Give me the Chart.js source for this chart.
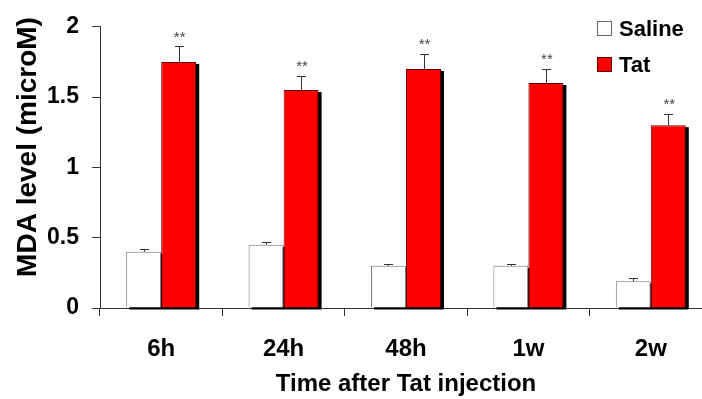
<!DOCTYPE html>
<html>
<head>
<meta charset="utf-8">
<script src="https://cdn.jsdelivr.net/npm/chart.js@4"></script>
<style>
  html, body { margin: 0; padding: 0; background: #fff; overflow: hidden; }
  #wrap { width: 702px; height: 399px; overflow: hidden; }
</style>
</head>
<body>
<div id="wrap"><canvas id="chart" width="714" height="399"></canvas></div>
<script>
// ── Data ────────────────────────────────────────────────
const categories = ["6h", "24h", "48h", "1w", "2w"];
const saline = [0.40, 0.45, 0.30, 0.30, 0.19];
const salineErr = [0.02, 0.02, 0.015, 0.015, 0.02];
const tat = [1.75, 1.55, 1.70, 1.60, 1.30];
const tatErr = [0.11, 0.10, 0.11, 0.10, 0.08];
const tatMarks = ["**", "**", "**", "**", "**"];
const yTicks = [0, 0.5, 1, 1.5, 2];

const FONT = "Arial, 'Liberation Sans', sans-serif";
const AXIS = "#333";

// ── Plugins ─────────────────────────────────────────────
// black drop shadow behind each bar
const barShadow = {
    id: "barShadow",
    beforeDatasetsDraw(chart) {
        const ctx = chart.ctx;
        ctx.save();
        ctx.fillStyle = "#000";
        chart.data.datasets.forEach((ds, i) => {
            chart.getDatasetMeta(i).data.forEach((bar) => {
                const { x, y, base, width } = bar.getProps(["x", "y", "base", "width"], true);
                ctx.fillRect(x - width / 2 + 3, y + 2, width, base - y);
            });
        });
        ctx.restore();
    },
};

// error bars + significance marks
const errorBars = {
    id: "errorBars",
    afterDatasetsDraw(chart) {
        const ctx = chart.ctx;
        const yScale = chart.scales.y;
        const errs = [salineErr, tatErr];
        ctx.save();
        ctx.strokeStyle = AXIS;
        ctx.lineWidth = 1;
        chart.data.datasets.forEach((ds, i) => {
            chart.getDatasetMeta(i).data.forEach((bar, j) => {
                const { x, y } = bar.getProps(["x", "y"], true);
                const top = yScale.getPixelForValue(ds.data[j] + errs[i][j]);
                const cx = Math.round(x) + 0.5;
                ctx.beginPath();
                ctx.moveTo(cx, y);
                ctx.lineTo(cx, Math.round(top) + 0.5);
                ctx.moveTo(cx - 4.5, Math.round(top) + 0.5);
                ctx.lineTo(cx + 4.5, Math.round(top) + 0.5);
                ctx.stroke();
                if (i === 1) {
                    ctx.fillStyle = "#444";
                    ctx.font = "15px " + FONT;
                    ctx.textAlign = "center";
                    ctx.textBaseline = "middle";
                    ctx.fillText(tatMarks[j], x + 1, top - 9);
                }
            });
        });
        ctx.restore();
    },
};

// y title and legend
const extras = {
    id: "extras",
    afterDraw(chart) {
        const ctx = chart.ctx;
        ctx.save();
        ctx.fillStyle = "#000";
        ctx.font = "bold 28px " + FONT;
        ctx.textAlign = "center";
        ctx.textBaseline = "middle";
        ctx.translate(28, 147);
        ctx.rotate(-Math.PI / 2);
        ctx.fillText("MDA level (microM)", 0, 0);
        ctx.restore();

        const items = [
            { label: "Saline", fill: "#fff", stroke: "#666" },
            { label: "Tat", fill: "#ff0000", stroke: "#600" },
        ];
        ctx.save();
        items.forEach((it, k) => {
            const top = 21 + k * 36;
            ctx.fillStyle = it.fill;
            ctx.fillRect(597, top, 15, 15);
            ctx.strokeStyle = it.stroke;
            ctx.lineWidth = 1;
            ctx.strokeRect(597.5, top + 0.5, 14, 14);
            ctx.fillStyle = "#000";
            ctx.font = "bold 22px " + FONT;
            ctx.textAlign = "left";
            ctx.textBaseline = "middle";
            ctx.fillText(it.label, 619, top + 8.5);
        });
        ctx.restore();
    },
};

// ── Chart ───────────────────────────────────────────────
new Chart(document.getElementById("chart"), {
    type: "bar",
    data: {
        labels: categories,
        datasets: [
            { label: "Saline", data: saline, backgroundColor: "#fff", borderColor: "#777", borderWidth: 1 },
            { label: "Tat", data: tat, backgroundColor: "#ff0000", borderColor: "#600", borderWidth: 1 },
        ],
    },
    options: {
        responsive: false,
        animation: false,
        events: [],
        layout: { padding: { top: 25, right: 2, bottom: 0, left: 0 } },
        datasets: { bar: { categoryPercentage: 0.572, barPercentage: 1.0 } },
        plugins: { legend: { display: false }, tooltip: { enabled: false } },
        scales: {
            x: {
                grid: { offset: true, drawOnChartArea: false, drawTicks: true, tickLength: 8, color: AXIS },
                border: { color: AXIS },
                ticks: { color: "#000", padding: 19, font: { family: FONT, size: 24, weight: "bold" } },
                title: {
                    display: true,
                    text: "Time after Tat injection",
                    color: "#000",
                    padding: { top: 0, bottom: 0 },
                    font: { family: FONT, size: 24, weight: "bold" },
                },
                afterFit(scale) { scale.height = 91; },
            },
            y: {
                min: 0,
                max: 2,
                afterBuildTicks(scale) { scale.ticks = yTicks.map((v) => ({ value: v })); },
                grid: { drawOnChartArea: false, drawTicks: true, tickLength: 8, color: AXIS },
                border: { color: AXIS },
                ticks: {
                    color: "#000",
                    padding: 13,
                    font: { family: FONT, size: 23, weight: "bold" },
                    callback: (v) => String(v),
                },
                afterFit(scale) { scale.width = 100; },
            },
        },
    },
    plugins: [barShadow, errorBars, extras],
});
</script>
</body>
</html>
